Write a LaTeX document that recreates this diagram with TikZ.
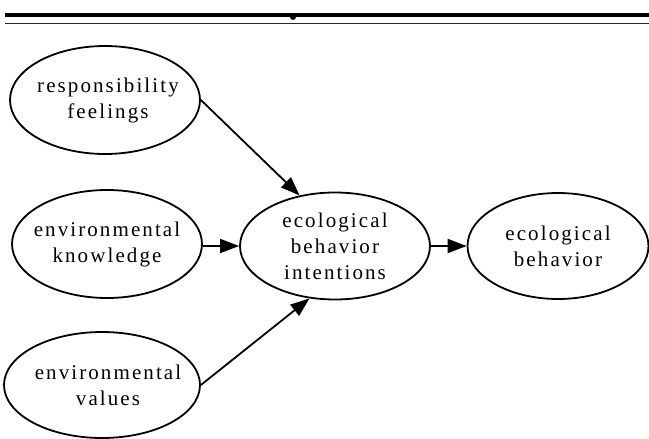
\documentclass[tikz,border=0pt]{standalone}
\usepackage{fontspec}
\setmainfont{Liberation Serif}[LetterSpace=10]
\usetikzlibrary{arrows.meta,shapes.geometric}
\tikzset{
  oval/.style={draw, ellipse, line width=1.8pt, inner sep=0pt},
  txt/.style={align=center, inner sep=0pt, font=\fontsize{21}{26}\selectfont},
  arr/.style={line width=1.8pt, -{Triangle[length=19pt,width=14pt]}},
}
\begin{document}
\begin{tikzpicture}[x=1pt,y=-1pt]
\useasboundingbox (0,0) rectangle (649,439);
% top rules
\coordinate (r1a) at (5,15);
\coordinate (r1b) at (649,15);
\coordinate (r2a) at (5,23.5);
\coordinate (r2b) at (649,23.5);
\draw[line width=3.5pt] (r1a) -- (r1b);
\draw[line width=1.1pt, black!85] (r2a) -- (r2b);
\coordinate (blob) at (293,17);
\fill (blob) circle (3pt);
% ellipses
\node[oval, minimum width=190pt, minimum height=108pt] (resp) at (105,100) {};
\node[oval, minimum width=190pt, minimum height=108pt] (know) at (107,244) {};
\node[oval, minimum width=196pt, minimum height=106pt] (val) at (102,385) {};
\node[oval, minimum width=190pt, minimum height=107pt] (int) at (335,246) {};
\node[oval, minimum width=181pt, minimum height=106pt] (beh) at (558,246) {};
% texts
\node[txt] (resp-t) at (108,100) {responsibility\\feelings};
\node[txt] (know-t) at (107,244) {environmental\\knowledge};
\node[txt] (val-t) at (108,385) {environmental\\values};
\node[txt] (int-t) at (335,246) {ecological\\behavior\\intentions};
\node[txt] (beh-t) at (558,246) {ecological\\behavior};
% arrows
\draw[arr] (resp.east) -- (int.125);
\draw[arr] (know.east |- int.west) -- (int.west);
\draw[arr] (val.east) -- (int.244);
\draw[arr] (int.east) -- (beh.west);
\end{tikzpicture}
\end{document}
